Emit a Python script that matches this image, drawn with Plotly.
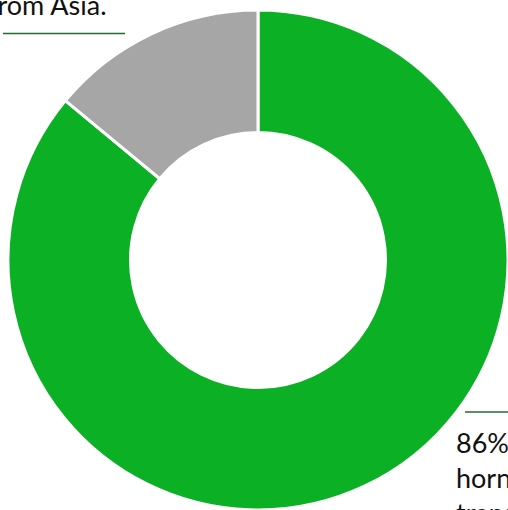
import plotly.graph_objects as go

labels = ["Other origins", "Asia"]
values = [86, 14]
colors = ["#0bb024", "#a6a6a6"]

note_top = "14% of the hornets<br>intercepted came<br>from Asia."
note_bottom = "86% of<br>hornets<br>transported"

W, H = 508, 510
ML, MT = 8, 10
PW, PH = W - ML, H - MT


def px(x):
    return (x - ML) / PW


def py(y):
    return (H - y) / PH


fig = go.Figure(
    go.Pie(
        labels=labels,
        values=values,
        hole=0.51,
        sort=False,
        direction="clockwise",
        rotation=0,
        marker=dict(colors=colors, line=dict(color="white", width=3)),
        textinfo="none",
        hoverinfo="label+percent",
        showlegend=False,
    )
)

font = dict(family="Lato, Open Sans, sans-serif", size=27, color="#111111")

fig.add_annotation(
    text=note_top, xref="paper", yref="paper",
    x=px(-14), y=py(23), xanchor="left", yanchor="bottom",
    align="left", showarrow=False, font=font,
)
fig.add_annotation(
    text=note_bottom, xref="paper", yref="paper",
    x=px(454), y=py(424), xanchor="left", yanchor="top",
    align="left", showarrow=False, font=font,
)

line_style = dict(color="#1f6e2e", width=1.5)
fig.add_shape(type="line", xref="paper", yref="paper",
              x0=px(3), x1=px(125), y0=py(33.5), y1=py(33.5), line=line_style)
fig.add_shape(type="line", xref="paper", yref="paper",
              x0=px(465), x1=px(520), y0=py(412), y1=py(412), line=line_style)

fig.update_layout(
    width=W, height=H,
    margin=dict(l=ML, r=0, t=MT, b=0),
    paper_bgcolor="white", plot_bgcolor="white",
)

fig.write_html("out.html")
